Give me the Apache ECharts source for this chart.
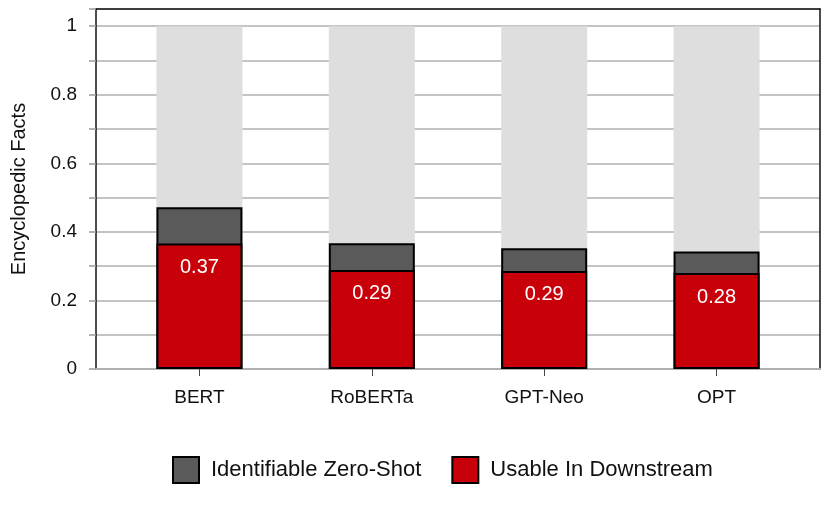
<!DOCTYPE html>
<html><head><meta charset="utf-8">
<script src="https://cdn.jsdelivr.net/npm/echarts@6/dist/echarts.min.js"></script>
<style>html,body{margin:0;padding:0;background:#fff}#c{width:830px;height:516px}</style>
</head><body><div id="c"></div>
<script>
const categories = ['BERT', 'RoBERTa', 'GPT-Neo', 'OPT'];
const backgroundTotal = [1, 1, 1, 1];
const identifiableZeroShot = [0.472, 0.367, 0.352, 0.343];
const usableInDownstream = [0.366, 0.289, 0.286, 0.280];
const yTicks = [0, 0.2, 0.4, 0.6, 0.8, 1];

const FONT = 'Liberation Sans';
const toPts = arr => arr.map((v, i) => [i, v]);

const chart = echarts.init(document.getElementById('c'), null, {renderer: 'canvas'});
chart.setOption({
  animation: false,
  textStyle: {fontFamily: FONT},
  grid: {left: 96, right: 10, top: 9, bottom: 147, containLabel: false, outerBoundsMode: 'none'},
  xAxis: [{
    type: 'value', min: -0.6, max: 3.6, position: 'bottom',
    splitLine: {show: false},
    axisLine: {show: true, onZero: false, lineStyle: {color: '#b0b0b0', width: 2}},
    axisTick: {show: true, customValues: categories.map((c, i) => i), length: 7, inside: false,
      lineStyle: {color: '#444', width: 1}},
    axisLabel: {show: true, customValues: categories.map((c, i) => i),
      formatter: v => categories[Math.round(v)] || '', margin: 19,
      fontSize: 19, color: '#111', fontFamily: FONT}
  }, {
    type: 'value', min: -0.6, max: 3.6, position: 'top',
    splitLine: {show: false},
    axisLine: {show: true, onZero: false, lineStyle: {color: '#111', width: 1.5}},
    axisTick: {show: false}, axisLabel: {show: false}
  }],
  yAxis: [{
    type: 'value', min: 0, max: 1.05, interval: 0.1, position: 'left',
    name: 'Encyclopedic Facts', nameLocation: 'middle', nameGap: 67,
    nameTextStyle: {fontSize: 20, color: '#111', fontFamily: FONT},
    axisLine: {show: true, onZero: false, lineStyle: {color: '#111', width: 1.5}},
    axisTick: {show: true, length: 7, lineStyle: {color: '#999', width: 1.5}},
    axisLabel: {
      fontSize: 19, color: '#111', margin: 19, fontFamily: FONT,
      formatter: v => {
        const hit = yTicks.find(t => Math.abs(t - v) < 1e-6);
        return hit === undefined ? '' : String(hit);
      }
    },
    splitLine: {show: true, lineStyle: {color: '#c4c4c4', width: 1.8}}
  }, {
    type: 'value', min: 0, max: 1.05, position: 'right',
    axisLine: {show: true, onZero: false, lineStyle: {color: '#111', width: 1.5}},
    axisTick: {show: false}, axisLabel: {show: false}, splitLine: {show: false}
  }],
  legend: {
    data: [{name: 'Identifiable Zero-Shot', icon: 'rect'}, {name: 'Usable In Downstream', icon: 'rect'}],
    left: 167, top: 451, itemWidth: 26, itemHeight: 26, itemGap: 30,
    textStyle: {fontSize: 22, color: '#111', fontFamily: FONT, padding: [0, 0, 0, 7]},
    selectedMode: false
  },
  series: [{
    name: 'bg', type: 'bar', barWidth: 86, barGap: '-100%',
    data: toPts(backgroundTotal),
    itemStyle: {color: '#dedede'}, silent: true, z: 1
  }, {
    name: 'Identifiable Zero-Shot', type: 'bar', barWidth: 86, barGap: '-100%',
    data: toPts(identifiableZeroShot),
    itemStyle: {color: '#5b5a5a', borderColor: '#000', borderWidth: 2}, z: 2
  }, {
    name: 'Usable In Downstream', type: 'bar', barWidth: 86, barGap: '-100%',
    data: toPts(usableInDownstream),
    itemStyle: {color: '#c8000a', borderColor: '#000', borderWidth: 2}, z: 3,
    label: {show: true, position: 'insideTop', distance: 14, color: '#fff', fontSize: 20,
      fontFamily: FONT, formatter: p => p.value[1].toFixed(2)}
  }]
});
</script></body></html>
